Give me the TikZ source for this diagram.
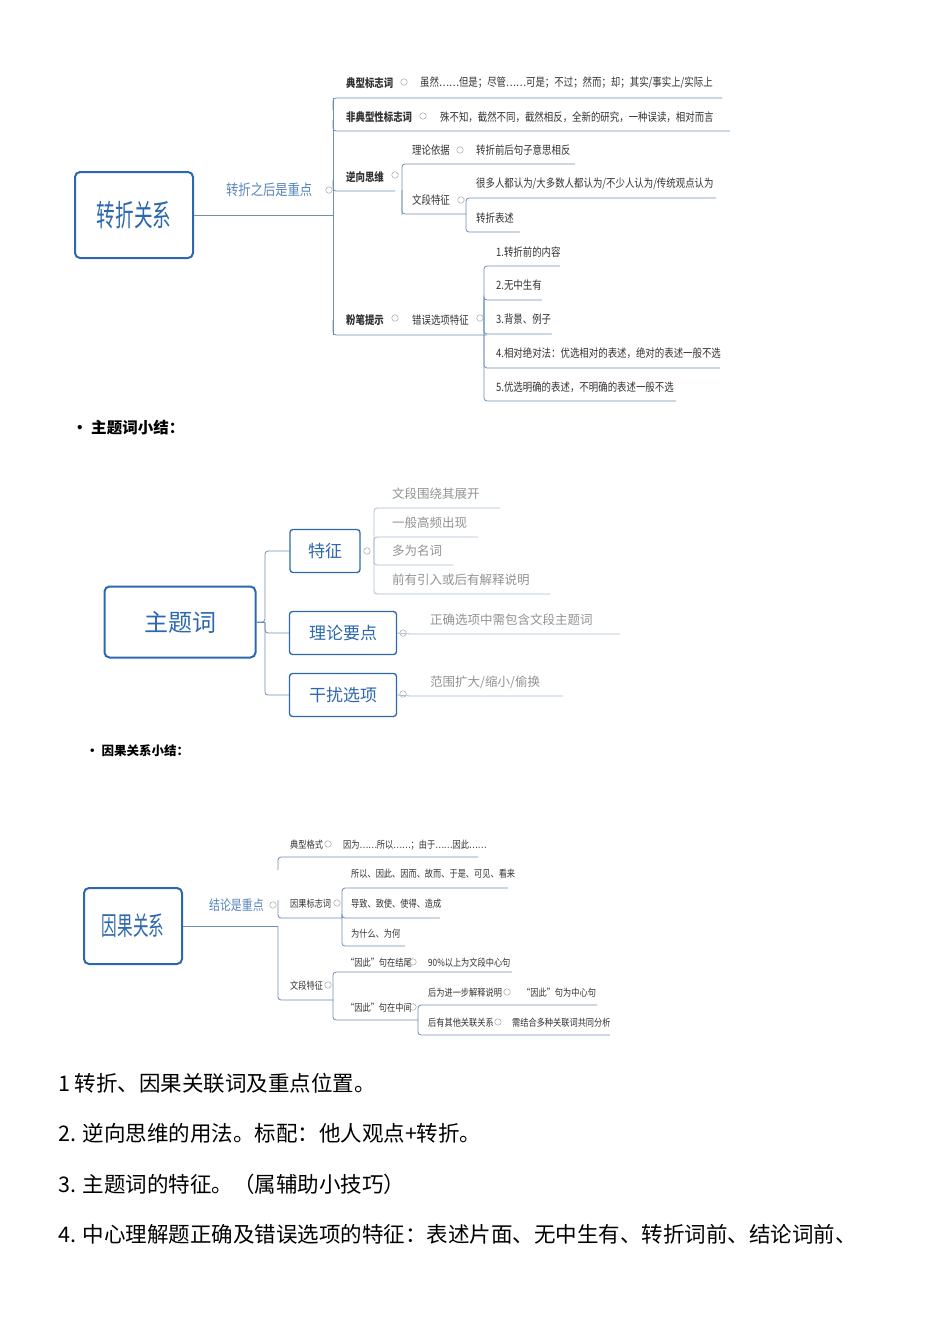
\documentclass[tikz,border=0pt]{standalone}
\usepackage{fontspec}
\setmainfont{Noto Sans CJK SC}
\begin{document}
\begin{tikzpicture}[x=1pt,y=-1pt,
  ln/.style={draw=lnc,line width=0.8pt,rounded corners=3pt},
  t/.style={anchor=west,inner sep=0pt,text=txc,font=\fontsize{11.5}{12}\selectfont,xscale=0.82,transform shape},
  tb/.style={t,font=\fontsize{11.5}{12}\selectfont\bfseries},
  tg/.style={anchor=west,inner sep=0pt,text=gray!85,font=\fontsize{12.5}{14}\selectfont},
  ts/.style={t,font=\fontsize{10}{11}\selectfont},
  mk/.style={circle,draw=gray!70,line width=0.5pt,inner sep=0pt,minimum size=6.5pt},
  bigbox/.style={draw=boxc,line width=2pt,rounded corners=5pt,text=boxc},
  smbox/.style={draw=boxc,line width=1.3pt,rounded corners=3pt,text=boxc,font=\fontsize{17}{19}\selectfont,inner sep=0pt}]
\definecolor{lnc}{HTML}{6E8FB5}
\definecolor{boxc}{HTML}{2D68AE}
\definecolor{txc}{HTML}{333333}
\useasboundingbox[fill=white] (0,0) rectangle (950,1344);
% ===== map 1 =====
\node[bigbox,minimum width=118pt,minimum height=86pt] (zz) at (134,215) {};
\node[text=boxc,font=\fontsize{30}{32}\selectfont,xscale=0.62,transform shape] at (zz) {转折关系};
\draw[ln] (zz.east) -- (333,215);
\node[t,text=boxc!80,font=\fontsize{15}{17}\selectfont] (a1) at (226,190) {转折之后是重点};
\node[mk] at (329,190) {};
\draw[ln] (333,98) -- (333,335);
\draw[ln] (333,110) |- (722,98);
\node[tb] at (346,83) {典型标志词}; \node[mk] at (404,82) {};
\node[t] at (420,83) {虽然……但是；尽管……可是；不过；然而；却；其实/事实上/实际上};
\draw[ln] (333,120) |- (730,131);
\node[tb] at (346,117) {非典型性标志词}; \node[mk] at (423,116) {};
\node[t] at (440,117) {殊不知，截然不同，截然相反，全新的研究，一种误读，相对而言};
\draw[ln] (333,180) |- (395,191);
\node[tb] at (346,177) {逆向思维}; \node[mk] at (395,175) {};
\draw[ln] (402,215) |- (575,164); \draw[ln] (402,190) |- (466,214);
\node[t] at (412,150) {理论依据}; \node[mk] at (460,150) {};
\node[t] at (476,150) {转折前后句子意思相反};
\node[t] at (412,200) {文段特征}; \node[mk] at (461,200) {};
\draw[ln] (466,205) |- (716,198); \draw[ln] (466,205) |- (520,232);
\node[t] at (476,184) {很多人都认为/大多数人都认为/不少人认为/传统观点认为};
\node[t] at (476,218) {转折表述};
\draw[ln] (333,320) |- (487,335);
\node[tb] at (346,320) {粉笔提示}; \node[mk] at (395,318) {};
\node[t] at (412,320) {错误选项特征}; \node[mk] at (480,318) {};
\draw[ln] (484,300) |- (560,266); \draw[ln] (484,300) |- (542,300);
\draw[ln] (484,300) |- (552,334); \draw[ln] (484,300) |- (720,368);
\draw[ln] (484,300) |- (676,401);
\node[t] at (496,252) {1.转折前的内容};
\node[t] at (496,285) {2.无中生有};
\node[t] at (496,319) {3.背景、例子};
\node[t] at (496,353) {4.相对绝对法：优选相对的表述，绝对的表述一般不选};
\node[t] at (496,387) {5.优选明确的表述，不明确的表述一般不选};
\node[anchor=west,inner sep=0pt,font=\fontsize{15.5}{17}\selectfont\bfseries] (b1) at (72,428) {• 主题词小结：};
% ===== map 2 =====
\node[bigbox,minimum width=151pt,minimum height=71pt,font=\fontsize{24}{26}\selectfont] (zt) at (180,622) {主题词};
\node[smbox,minimum width=70pt,minimum height=43pt] (tz) at (325,551) {特征};
\node[smbox,minimum width=107pt,minimum height=43pt] (ll) at (343,633) {理论要点};
\node[smbox,minimum width=107pt,minimum height=43pt] (gr) at (343,695) {干扰选项};
\draw[ln] (zt.east) -- (265,622);
\draw[ln] (256,622) -- (265,622) |- (tz.west);
\draw[ln] (265,622) |- (ll.west);
\draw[ln] (265,622) |- (gr.west);
\node[mk] at (367,551) {};
\draw[ln,draw=lnc!60] (374,551) |- (500,508); \draw[ln,draw=lnc!60] (374,551) |- (478,537);
\draw[ln,draw=lnc!60] (374,551) |- (453,565); \draw[ln,draw=lnc!60] (374,551) |- (550,594);
\node[tg] at (392,494) {文段围绕其展开};
\node[tg] at (392,523) {一般高频出现};
\node[tg] at (392,551) {多为名词};
\node[tg] at (392,580) {前有引入或后有解释说明};
\node[mk] at (403,633) {};
\draw[ln,draw=lnc!60] (ll.east) -- (410,634) -- (620,634);
\node[tg] at (430,620) {正确选项中需包含文段主题词};
\node[mk] at (403,694) {};
\draw[ln,draw=lnc!60] (gr.east) -- (410,696) -- (563,696);
\node[tg] at (430,682) {范围扩大/缩小/偷换};
\node[anchor=west,inner sep=0pt,font=\fontsize{12.5}{14}\selectfont\bfseries] (b2) at (86,751) {• 因果关系小结：};
% ===== map 3 =====
\node[bigbox,minimum width=98pt,minimum height=76pt] (yg) at (133,926) {};
\node[text=boxc,font=\fontsize{26}{28}\selectfont,xscale=0.6,transform shape] at (yg) {因果关系};
\draw[ln] (yg.east) -- (278,926);
\node[t,text=boxc!80,font=\fontsize{14}{16}\selectfont,xscale=0.95] at (209,905) {结论是重点};
\node[mk] at (273,905) {};
\draw[ln] (278,870) |- (478,857);
\node[ts] at (290,845) {典型格式}; \node[mk] at (328,844) {};
\node[ts] at (343,845) {因为……所以……；由于……因此……};
\draw[ln] (278,900) |- (342,918);
\node[ts] at (290,904) {因果标志词}; \node[mk] at (337,903) {};
\draw[ln] (342,918) |- (508,888); \draw[ln] (342,918) |- (440,918); \draw[ln] (342,918) |- (405,946);
\node[ts] at (351,874) {所以、因此、因而、故而、于是、可见、看来};
\node[ts] at (351,904) {导致、致使、使得、造成};
\node[ts] at (351,934) {为什么、为何};
\draw[ln] (278,926) |- (333,1000);
\node[ts] at (290,986) {文段特征}; \node[mk] at (328,985) {};
\draw[ln] (333,1000) |- (512,972); \draw[ln] (333,1000) |- (418,1020);
\node[ts] at (346,963) {“因此”句在结尾}; \node[mk] at (413,962) {};
\node[ts] at (428,963) {90\%以上为文段中心句};
\node[ts] at (346,1008) {“因此”句在中间}; \node[mk] at (413,1007) {};
\draw[ln] (418,1020) |- (597,1005); \draw[ln] (418,1020) |- (610,1035);
\node[ts] at (428,993) {后为进一步解释说明}; \node[mk] at (507,992) {};
\node[ts] at (522,993) {“因此”句为中心句};
\node[ts] at (428,1023) {后有其他关联关系}; \node[mk] at (498,1022) {};
\node[ts] at (512,1023) {需结合多种关联词共同分析};
% ===== bottom text =====
\begin{scope}[every node/.style={anchor=west,inner sep=0pt,font=\fontsize{21.5}{23}\selectfont}]
\node (l1) at (58,1083) {1 转折、因果关联词及重点位置。};
\node (l2) at (58,1133) {2. 逆向思维的用法。标配：他人观点+转折。};
\node (l3) at (58,1184) {3. 主题词的特征。（属辅助小技巧）};
\node (l4) at (58,1234) {4. 中心理解题正确及错误选项的特征：表述片面、无中生有、转折词前、结论词前、};
\end{scope}
\end{tikzpicture}
\end{document}
